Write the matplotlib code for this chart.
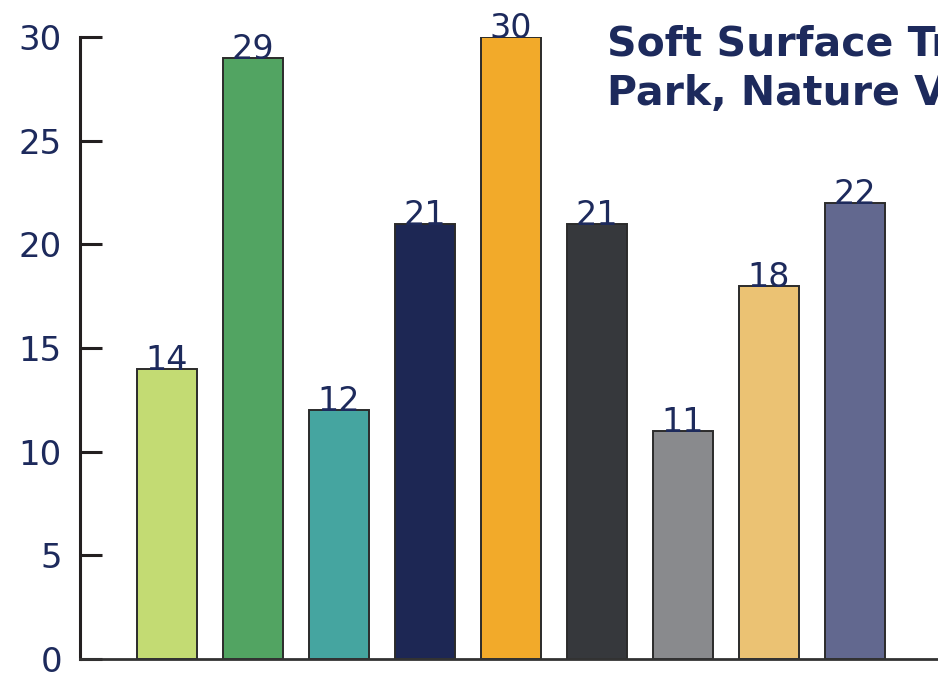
import matplotlib
matplotlib.use("Agg")
import matplotlib.pyplot as plt

values = [14, 29, 12, 21, 30, 21, 11, 18, 22]
colors = ["#c3db73", "#52a462", "#45a5a0", "#1d2754", "#f2aa2a",
          "#36383c", "#898a8d", "#ebc273", "#62688f"]
yticks = [0, 5, 10, 15, 20, 25, 30]
title = "Soft Surface Trails in\nPark, Nature Village"

TEXT = "#1d2a5c"
LINE = "#231f20"

plt.rcParams['font.family'] = ['DejaVu Sans']

W, H = 938, 675
fig = plt.figure(figsize=(W / 100, H / 100), dpi=100)
fig.patch.set_facecolor("white")

x0, x1 = -1.01, 10.5
left_px, bottom_px, top_px = 80, 659, 37
unit = 86
ax = fig.add_axes([left_px / W, (H - bottom_px) / H,
                   (x1 - x0) * unit / W, (bottom_px - top_px) / H])

xs = list(range(len(values)))
ax.bar(xs, values, width=0.7, color=colors, edgecolor="#2b2b2b", linewidth=1.4, zorder=2)
for x, v in zip(xs, values):
    ax.text(x, v - 0.05, str(v), ha="center", va="baseline", fontsize=24, color=TEXT, zorder=3)

ax.set_xlim(x0, x1)
ax.set_ylim(0, 30)
ax.set_yticks(yticks)
ax.set_yticklabels([str(t) for t in yticks])
ax.set_xticks([])
ax.tick_params(axis="y", direction="in", length=16, width=2.2, color=LINE,
               labelsize=24.5, labelcolor=TEXT, pad=13)
for s in ["top", "right"]:
    ax.spines[s].set_visible(False)
ax.spines["left"].set_linewidth(2.2)
ax.spines["left"].set_color(LINE)
ax.spines["bottom"].set_linewidth(2.0)
ax.spines["bottom"].set_color("#333333")

fig.text(607 / W, 1 - 25 / H, title, ha="left", va="top", fontsize=29.5,
         fontweight="bold", color=TEXT, linespacing=1.3)

fig.savefig("out.png", dpi=100)
